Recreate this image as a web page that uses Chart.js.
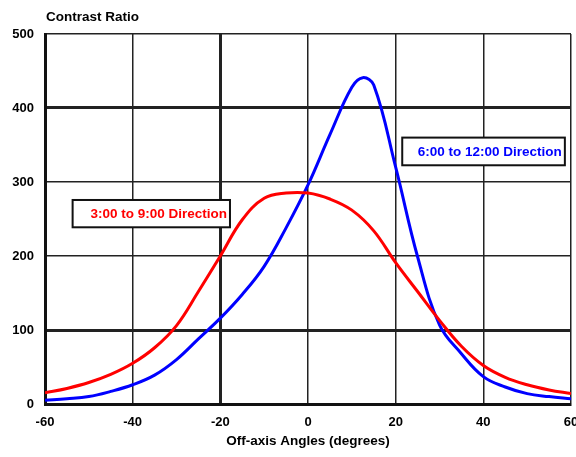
<!DOCTYPE html>
<html>
<head>
<meta charset="utf-8">
<script src="https://cdn.jsdelivr.net/npm/chart.js"></script>
<style>
  html, body { margin: 0; padding: 0; background: #fff; overflow: hidden; }
  #wrap { width: 576px; height: 457px; }
</style>
</head>
<body>
<div id="wrap"><canvas id="myChart"></canvas></div>
<script>
// contrast ratio vs off-axis angle
const redAngles = [-60, -55, -50, -45, -40, -35, -30, -25, -20, -15, -10, -5, 0, 5, 10, 15, 20, 25, 30, 35, 40, 45, 50, 55, 60];
const redValues = [15, 21, 29, 40, 55, 76, 106, 152, 200, 249, 278, 285, 285, 277, 262, 234, 191, 152, 113, 78, 52, 36, 26, 19, 14];

const blueAngles = [-60, -55, -50, -45, -40, -35, -30, -25, -20, -15, -10, -5, 0, 5, 10, 12.5, 15, 20, 25, 30, 35, 40, 45, 50, 55, 60];
const blueValues = [5, 7, 10, 17, 26, 39, 60, 88, 116, 148, 186, 238, 296, 364, 428, 441, 431, 320, 199, 107, 68, 37, 23, 14, 10, 7];

const xTicks = [-60, -40, -20, 0, 20, 40, 60];
const yTicks = [0, 100, 200, 300, 400, 500];

const redLabel = '3:00 to 9:00 Direction';
const blueLabel = '6:00 to 12:00 Direction';

const FONT = 'Liberation Sans, Arial, sans-serif';

function pts(xs, ys) {
  return xs.map((x, i) => ({ x: x, y: ys[i] }));
}

// boxed labels + the "Contrast Ratio" heading
const notes = {
  id: 'notes',
  afterDatasetsDraw(chart) {
    const ctx = chart.ctx;
    const sx = chart.scales.x, sy = chart.scales.y;
    const boxes = [
      { text: redLabel, color: '#ff0000', x0: -53.7, x1: -17.8, y0: 275.7, y1: 238.8 },
      { text: blueLabel, color: '#0000ff', x0: 21.5, x1: 58.6, y0: 360, y1: 322.6 }
    ];
    ctx.save();
    boxes.forEach(b => {
      const l = sx.getPixelForValue(b.x0), r = sx.getPixelForValue(b.x1);
      const t = sy.getPixelForValue(b.y0), btm = sy.getPixelForValue(b.y1);
      ctx.fillStyle = '#fff';
      ctx.fillRect(l, t, r - l, btm - t);
      ctx.strokeStyle = '#111';
      ctx.lineWidth = 2;
      ctx.strokeRect(l, t, r - l, btm - t);
      ctx.fillStyle = b.color;
      ctx.font = 'bold 13.5px ' + FONT;
      ctx.textAlign = 'right';
      ctx.textBaseline = 'middle';
      ctx.fillText(b.text, r - 3, (t + btm) / 2 + 1);
    });
    ctx.fillStyle = '#000';
    ctx.font = 'bold 13.5px ' + FONT;
    ctx.textAlign = 'left';
    ctx.textBaseline = 'middle';
    ctx.fillText('Contrast Ratio', chart.chartArea.left + 1, chart.chartArea.top - 17);
    ctx.restore();
  }
};

function gridWidth(v, thick) {
  if (thick.indexOf(v) >= 0) return 3;
  return 1.5;
}

new Chart(document.getElementById('myChart'), {
  type: 'line',
  data: {
    datasets: [
      {
        label: redLabel,
        data: pts(redAngles, redValues),
        borderColor: '#ff0000',
        borderWidth: 3,
        pointRadius: 0,
        tension: 0.4,
        fill: false
      },
      {
        label: blueLabel,
        data: pts(blueAngles, blueValues),
        borderColor: '#0000ff',
        borderWidth: 3,
        pointRadius: 0,
        tension: 0.4,
        fill: false
      }
    ]
  },
  options: {
    responsive: true,
    maintainAspectRatio: false,
    animation: false,
    layout: { autoPadding: false, padding: { left: 0, right: 5, top: 34, bottom: 0 } },
    plugins: {
      legend: { display: false },
      tooltip: { enabled: false }
    },
    scales: {
      x: {
        type: 'linear',
        min: -60,
        max: 60,
        afterBuildTicks: s => { s.ticks = xTicks.map(v => ({ value: v })); },
        afterFit: s => { s.height = 53; s.paddingLeft = 0; s.paddingRight = 0; },
        border: { color: '#111', width: 3 },
        grid: {
          color: '#222',
          lineWidth: c => gridWidth(c.tick ? c.tick.value : null, [-20]),
          drawTicks: false
        },
        ticks: {
          color: '#000',
          padding: 11,
          maxRotation: 0,
          font: { family: FONT, size: 13, weight: 'bold' }
        },
        title: {
          display: true,
          text: 'Off-axis Angles (degrees)',
          color: '#000',
          padding: { top: 6, bottom: 8 },
          font: { family: FONT, size: 13.5, weight: 'bold' }
        }
      },
      y: {
        min: 0,
        max: 500,
        afterBuildTicks: s => { s.ticks = yTicks.map(v => ({ value: v })); },
        afterFit: s => { s.width = 45; },
        border: { color: '#111', width: 3 },
        grid: {
          color: '#222',
          lineWidth: c => gridWidth(c.tick ? c.tick.value : null, [100, 400]),
          drawTicks: false
        },
        ticks: {
          color: '#000',
          padding: 11,
          font: { family: FONT, size: 13, weight: 'bold' }
        }
      }
    }
  },
  plugins: [notes]
});
</script>
</body>
</html>
